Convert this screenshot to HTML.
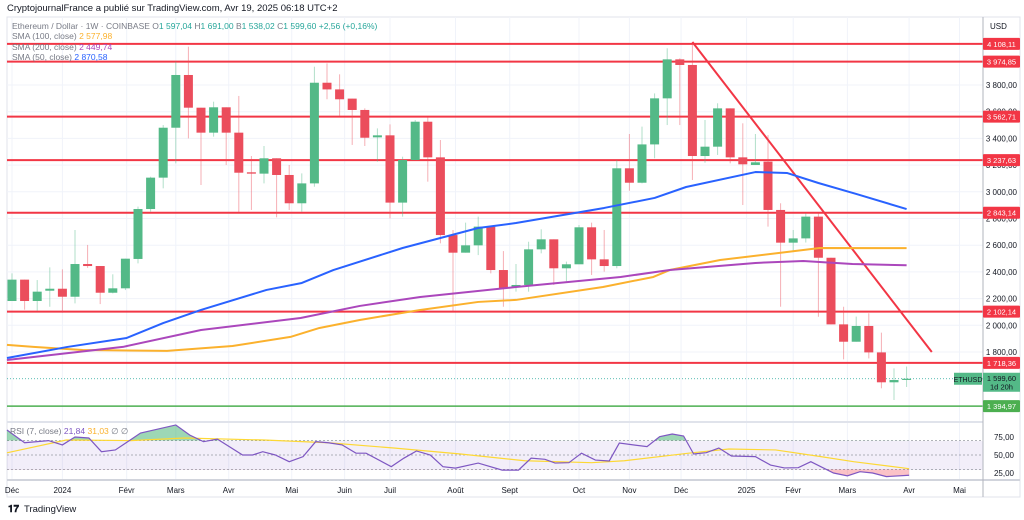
<!DOCTYPE html>
<html><head><meta charset="utf-8"><style>
body{margin:0;background:#fff;width:1024px;height:520px;overflow:hidden;font-family:"Liberation Sans",sans-serif}
svg{display:block}
text{font-family:"Liberation Sans",sans-serif}
</style></head><body>
<svg id="chart" width="1024" height="520" xmlns="http://www.w3.org/2000/svg">
<text x="7" y="11" font-size="9.5" fill="#131722">CryptojournalFrance a publié sur TradingView.com, Avr 19, 2025 06:18 UTC+2</text>
<rect x="7" y="17" width="1013" height="480" fill="none" stroke="#e0e3eb"/>
<g id="grid"></g>
<rect x="7" y="441" width="976" height="29" fill="rgba(126,87,194,0.1)"/>
<g id="rsi"></g>
<g id="levels"></g>
<g id="candles"></g>
<g id="smas"></g>
<line x1="7" y1="422" x2="983" y2="422" stroke="#e0e3eb" stroke-width="2"/>
<line x1="7" y1="480" x2="1020" y2="480" stroke="#d1d4dc" stroke-width="2"/>
<line x1="983" y1="17" x2="983" y2="497" stroke="#b2b5be"/>
<g id="axis"></g>
<g id="legend" font-size="8.5">
<text x="12" y="29" fill="#787b86">Ethereum / Dollar · 1W · COINBASE <tspan fill="#787b86">O</tspan><tspan fill="#26a69a">1 597,04</tspan> <tspan fill="#787b86">H</tspan><tspan fill="#26a69a">1 691,00</tspan> <tspan fill="#787b86">B</tspan><tspan fill="#26a69a">1 538,02</tspan> <tspan fill="#787b86">C</tspan><tspan fill="#26a69a">1 599,60</tspan> <tspan fill="#26a69a">+2,56 (+0,16%)</tspan></text>
<text x="12" y="39" fill="#787b86">SMA (100, close) <tspan fill="#fbb12d">2 577,98</tspan></text>
<text x="12" y="50" fill="#787b86">SMA (200, close) <tspan fill="#ab47bc">2 449,74</tspan></text>
<text x="12" y="60" fill="#787b86">SMA (50, close) <tspan fill="#2962ff">2 870,58</tspan></text>
<text x="10" y="434" fill="#787b86">RSI (7, close) <tspan fill="#7e57c2">21,84</tspan> <tspan fill="#fbb12d">31,03</tspan> ∅ ∅</text>
</g>
<text x="990" y="29" font-size="8" fill="#131722">USD</text>
<g><text x="8" y="512" font-size="10" font-weight="bold" fill="#131722">𝟏𝟕</text><text x="24" y="512" font-size="9.5" fill="#131722">TradingView</text></g>
</svg>
<script>
const opens=[2182,2342,2182,2259,2274,2214,2459,2444,2244,2277,2497,2871,3106,3480,3875,3630,3443,3633,3443,3146,3136,3251,3126,2914,3063,3817,3767,3698,3613,3408,3423,2919,3238,3525,3258,2676,2544,2599,2739,2414,2284,2302,2569,2644,2427,2457,2734,2494,2444,3176,3068,3355,3700,3992,3950,3268,3338,3625,3258,3201,3226,2864,2619,2651,2814,2506,2007,1877,1995,1797,1573,1597.04];
const closes=[2342,2182,2252,2274,2214,2459,2444,2244,2277,2499,2871,3106,3480,3875,3630,3443,3633,3443,3143,3136,3251,3126,2914,3063,3817,3767,3693,3613,3405,3423,2919,3238,3525,3258,2676,2544,2599,2739,2414,2277,2302,2569,2644,2427,2457,2734,2494,2444,3176,3068,3355,3700,3992,3950,3268,3338,3625,3258,3206,3221,2864,2619,2651,2814,2506,2007,1877,1995,1797,1573,1590,1599.6];
const highs=[2389,2342,2339,2434,2419,2714,2602,2444,2382,2499,2889,3113,3500,3975,4087,3630,3675,3633,3718,3268,3343,3251,3201,3138,3937,3962,3880,3698,3625,3475,3505,3263,3538,3558,3388,2714,2769,2814,2739,2556,2459,2626,2719,2644,2477,2751,2769,2714,3238,3433,3488,3737,4075,4000,4100,3538,3663,3625,3513,3433,3425,2914,2714,2839,2839,2506,2139,2065,2090,1945,1677,1691];
const lows=[2182,2117,2109,2139,2094,2164,2430,2159,2239,2264,2464,2851,3026,3213,3400,3051,3413,3201,2844,2864,3063,2809,2864,2851,3038,3693,3568,3351,3343,3226,2801,2814,3238,3076,2614,2102,2544,2526,2389,2139,2252,2252,2539,2302,2329,2457,2377,2402,2427,3008,3063,3251,3500,3500,3088,3218,3276,3213,2901,3201,2739,2139,2551,2620,2064,2007,1745,1877,1752,1528,1440,1538.02];
const sma50Idx=[-0.4,4.4,9.1,12,15,20.2,23,25.5,31,37,40,47,51,53.5,59,61.5,64,67,71];
const sma50Vals=[1755,1838,1905,2017,2115,2265,2317,2414,2579,2729,2766,2879,2954,3036,3148,3141,3066,2984,2870.58];
const sma200Idx=[-0.4,8.8,15,22.9,27.6,32.4,40,48.3,52.2,59,62.8,66.7,71];
const sma200Vals=[1740,1838,1965,2055,2145,2212,2287,2362,2414,2467,2482,2459,2449.74];
const sma100Idx=[-0.4,1.7,5.6,12.3,17.5,22.1,24.4,27.6,32.4,37,40,46.9,50.9,52.2,56.2,61.5,64.1,71];
const sma100Vals=[1853,1838,1815,1808,1845,1913,1980,2040,2115,2175,2190,2287,2362,2414,2489,2549,2579,2577.98];
const levels=[4108.11,3974.85,3562.71,3237.63,2843.14,2102.14,1718.36];
const supportLevel=1394.97;
const trendStart=[54,4122];
const trendEnd=[73,1800];
const priceTicks=[3800,3600,3400,3200,3000,2800,2600,2400,2200,2000,1800];
const priceTickLabels=["3 800,00","3 600,00","3 400,00","3 200,00","3 000,00","2 800,00","2 600,00","2 400,00","2 200,00","2 000,00","1 800,00"];
const rsiIdx=[-0.4,1,2.9,4,5,6.1,7.1,8.2,9.4,10.2,13,14.1,15.2,16.3,18.3,19.1,19.9,20.9,22,23.1,24.1,25.1,26.2,27.3,28.1,30.1,31.1,32.1,33.2,34.2,35.2,37,38.9,40.2,41.2,42.3,43.1,44.2,45.2,46.3,47.4,48.2,50.4,51.4,52.4,53.3,54.1,55.1,56.1,57.1,59,60.2,61.3,62.4,63.4,65.2,66.3,67.3,68.3,69.4,71.2];
const rsiVals=[84.7,67,70,64,75,73.6,54.6,57,71,80.5,91.7,77.8,68.5,72,50,50,54.6,50,40.7,47.7,68.5,67,64,52.5,52.5,33.8,45.6,55.6,50,33.8,31.8,38.8,29,29,45.6,44,38.8,39.3,52.5,43,41.7,66.6,61.6,75.5,79.2,76.4,51.4,53.2,59.7,48.6,47.7,36,32,32.4,40.7,25,21,26.8,25,20,21.84];
const rsiMaIdx=[-0.4,4.3,9.4,13.7,20,25.1,30.3,35.6,40.7,46,48.6,53.7,56.9,60.6,64.2,66.8,71.2];
const rsiMaVals=[53,70.8,70,73.6,70.8,67,59.7,51.4,42,39.3,42,52.5,58.3,57,47.7,40.7,31.03];
const monthLabels=["Déc","2024","Févr","Mars","Avr","Mai","Juin","Juil","Août","Sept","Oct","Nov","Déc","2025","Févr","Mars","Avr","Mai"];
const monthIdx=[0,4,9.1,13,17.2,22.2,26.4,30,35.2,39.5,45,49,53.1,58.3,62,66.3,71.2,75.2];

const NS="http://www.w3.org/2000/svg";
const xI=i=>12+i*12.6;
const yP=p=>85+(3800-p)*0.1335;
const yR=v=>455-(v-50)*0.72;
function mk(tag,attrs,parent){const e=document.createElementNS(NS,tag);for(const k in attrs)e.setAttribute(k,attrs[k]);parent.appendChild(e);return e;}
const G=id=>document.getElementById(id);

// grid
monthIdx.forEach((m,k)=>{
  const l=mk('line',{x1:xI(m),x2:xI(m),y1:17,y2:480,stroke:'#f0f3fa'},G('grid'));
  
  
  const t=mk('text',{x:xI(m),y:493,'font-size':8,fill:'#131722','text-anchor':'middle'},G('axis'));
  t.textContent=monthLabels[k];
  
  
});
priceTicks.forEach((p,k)=>{
  const l=mk('line',{x1:7,x2:983,y1:yP(p),y2:yP(p),stroke:'#f0f3fa'},G('grid'));
  
  
  const t=mk('text',{x:1017,y:yP(p)+3,'font-size':8,fill:'#131722','text-anchor':'end'},G('axis'));
  t.textContent=priceTickLabels[k];
  
  
});
[[75,'75,00'],[50,'50,00'],[25,'25,00']].forEach(([v,s])=>{
  const t=mk('text',{x:1014,y:yR(v)+3,'font-size':8,fill:'#131722','text-anchor':'end'},G('axis'));
  t.textContent=s;
  
  
});
[70,50,30].forEach(v=>{
  const l=mk('line',{x1:7,x2:983,y1:yR(v),y2:yR(v),stroke:'#9598a1','stroke-dasharray':'2,2','stroke-width':0.8},G('rsi'));
  
  
});

// rsi fills
const rsiPts=rsiIdx.map((d,k)=>[xI(d),yR(rsiVals[k])]);
const defs=mk('defs',{},G('rsi'));
const c1=mk('clipPath',{id:'above70'},defs);mk('rect',{x:0,y:0,width:1024,height:yR(70)},c1);
const c2=mk('clipPath',{id:'below30'},defs);mk('rect',{x:0,y:yR(30),width:1024,height:100},c2);
const poly1=mk('polygon',{points:rsiPts.map(p=>p.join(',')).join(' ')+` ${rsiPts[rsiPts.length-1][0]},${yR(70)} ${rsiPts[0][0]},${yR(70)}`,fill:'rgba(38,166,91,0.45)','clip-path':'url(#above70)'},G('rsi'));


const poly2=mk('polygon',{points:rsiPts.map(p=>p.join(',')).join(' ')+` ${rsiPts[rsiPts.length-1][0]},${yR(30)} ${rsiPts[0][0]},${yR(30)}`,fill:'rgba(242,54,69,0.3)','clip-path':'url(#below30)'},G('rsi'));


const rma=mk('polyline',{points:rsiMaIdx.map((d,k)=>xI(d)+','+yR(rsiMaVals[k])).join(' '),fill:'none',stroke:'#fdd835','stroke-width':1.2},G('rsi'));


const rl=mk('polyline',{points:rsiPts.map(p=>p.join(',')).join(' '),fill:'none',stroke:'#7e57c2','stroke-width':1.2},G('rsi'));



// levels
function badge(y,txt,fill,name){
  const r=mk('rect',{x:983,y:y-6,width:37,height:12,fill:fill,rx:1},G('axis'));
  
  
  const t=mk('text',{x:1001.5,y:y+3,'font-size':7.5,fill:'#fff','text-anchor':'middle'},G('axis'));
  t.textContent=txt;
  
  
}
const fmt=v=>{const s=v.toFixed(2).replace('.',',');const [a,b]=s.split(',');return a.replace(/\B(?=(\d{3})+(?!\d))/g,' ')+','+b;};
levels.forEach(p=>{
  const l=mk('line',{x1:7,x2:983,y1:yP(p),y2:yP(p),stroke:'#f23645','stroke-width':2},G('levels'));
  
  
});
const sl=mk('line',{x1:7,x2:983,y1:yP(supportLevel),y2:yP(supportLevel),stroke:'#4caf50','stroke-width':1.5},G('levels'));


const cp=mk('line',{x1:7,x2:983,y1:yP(closes[closes.length-1]),y2:yP(closes[closes.length-1]),stroke:'#26a69a','stroke-dasharray':'1,2','stroke-width':0.7},G('levels'));


const tl=mk('line',{x1:xI(trendStart[0]),y1:yP(trendStart[1]),x2:xI(trendEnd[0]),y2:yP(trendEnd[1]),stroke:'#f23645','stroke-width':2},G('levels'));



// candles
opens.forEach((o,i)=>{
  const c=closes[i],up=c>=o,col=up?'#53b987':'#eb4d5c';
  const g=mk('g',{},G('candles'));
  
  
  mk('line',{x1:xI(i),x2:xI(i),y1:yP(highs[i]),y2:yP(lows[i]),stroke:col,'stroke-opacity':0.45,'stroke-width':1},g);
  const top=yP(Math.max(o,c)),bot=yP(Math.min(o,c));
  mk('rect',{x:xI(i)-4.5,y:top,width:9,height:Math.max(1.2,bot-top),fill:col},g);
});

// smas
[[sma100Idx,sma100Vals,'#fbb12d','sma100-line'],[sma200Idx,sma200Vals,'#ab47bc','sma200-line'],[sma50Idx,sma50Vals,'#2962ff','sma50-line']].forEach(([ix,vs,col,name])=>{
  const pl=mk('polyline',{points:ix.map((d,k)=>xI(d)+','+yP(vs[k])).join(' '),fill:'none',stroke:col,'stroke-width':2,'stroke-linejoin':'round'},G('smas'));
  
  
});

// axis badges
levels.forEach(p=>badge(yP(p),fmt(p),'#f23645','level-badge'));
badge(yP(supportLevel),fmt(supportLevel),'#4caf50','support-badge');
const cy=yP(closes[closes.length-1]);
const pb=mk('rect',{x:983,y:cy-6,width:37,height:19,fill:'#53b987'},G('axis'));


const pt=mk('text',{x:1001.5,y:cy+2,'font-size':7.5,fill:'#131722','text-anchor':'middle'},G('axis'));
pt.textContent=fmt(closes[closes.length-1]);


const pt2=mk('text',{x:1001.5,y:cy+10.5,'font-size':7.5,fill:'#131722','text-anchor':'middle'},G('axis'));
pt2.textContent='1d 20h';


const sb=mk('rect',{x:954,y:cy-6,width:28,height:12,fill:'#53b987'},G('axis'));


const st=mk('text',{x:968,y:cy+3,'font-size':7,fill:'#131722','text-anchor':'middle'},G('axis'));
st.textContent='ETHUSD';


</script>
</body></html>
